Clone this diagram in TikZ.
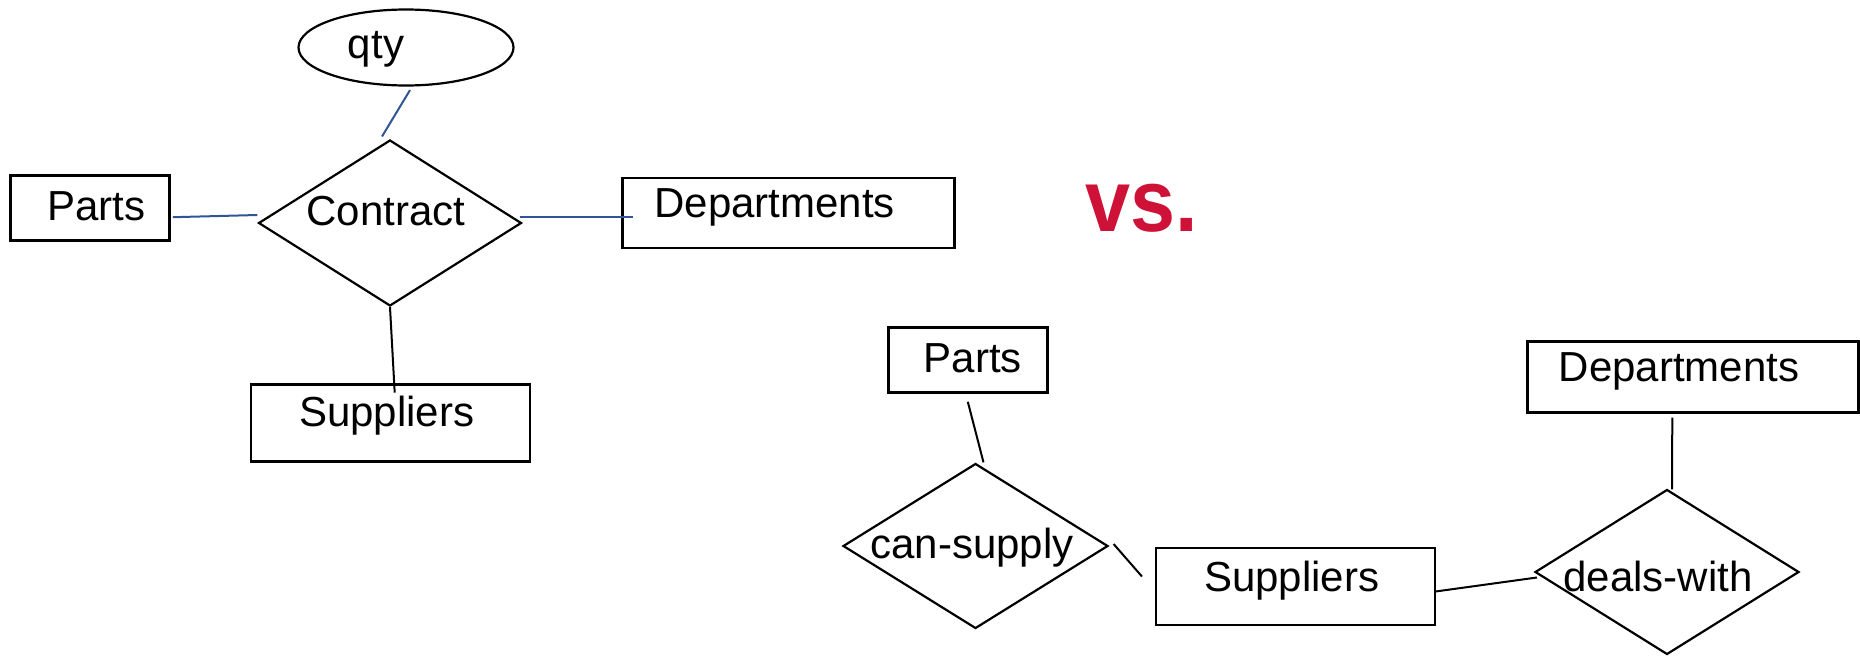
\documentclass[tikz,border=0pt]{standalone}
\usepackage{fontspec}
\setmainfont{Liberation Sans}
\usetikzlibrary{shapes.geometric,calc}
\definecolor{vsred}{RGB}{206,17,54}
\definecolor{linkblue}{RGB}{47,85,151}
\newcommand{\tx}[3]{\raisebox{#2}{\makebox[0pt]{\hspace*{#1}\hspace*{#1}#3}}}
\begin{document}
\begin{tikzpicture}[x=1pt,y=-1pt,
  font=\fontsize{42}{50}\selectfont,
  entity/.style={draw, rectangle, line width=2.5pt, inner sep=0pt, text height=30pt, text depth=0pt},
  rel/.style={draw, diamond, line width=2.2pt, inner sep=0pt, text height=30pt, text depth=0pt},
  attr/.style={draw, ellipse, line width=2.2pt, inner sep=0pt, text height=30pt, text depth=0pt},
  conn/.style={line width=2pt},
  blueconn/.style={conn, draw=linkblue}]
\useasboundingbox (0,0) rectangle (1860,656);

% ---- left: ternary relationship ----
\node[attr, minimum width=215pt, minimum height=76pt] (qty) at (406,47.5) {\tx{-30pt}{4pt}{qty}};
\node[rel, minimum width=263pt, minimum height=166pt] (contract) at (390,223) {\tx{-4pt}{13pt}{Contract}};
\node[entity, minimum width=159pt, minimum height=65pt] (partsL) at (90.2,208.2) {\tx{6pt}{3pt}{Parts}};
\node[entity, minimum width=332pt, minimum height=70pt] (deptL) at (788.7,213) {\tx{-14pt}{11pt}{Departments}};
\node[entity, minimum width=279pt, minimum height=77pt] (suppL) at (390.7,422.9) {\tx{-4pt}{11pt}{Suppliers}};

\draw[blueconn] ($(qty.south)+(4,3.5)$) -- ($(contract.north)+(-8,-2.4)$);
\draw[blueconn] ($(partsL.east)+(2,9)$) -- ($(contract.west)+(0,-8)$);
\draw[blueconn] ($(contract.east)+(-3,-6)$) -- ($(deptL.west)+(12,4)$);
\draw[conn] (contract.south) -- ($(suppL.north)+(4,9.5)$);

% ---- vs. ----
\node[anchor=base, inner sep=0pt, text=vsred, font=\fontsize{88}{100}\selectfont\bfseries] (vs) at (1141.5,231) {\scalebox{0.92}[1]{vs.}};

% ---- right: two binary relationships ----
\node[entity, minimum width=159pt, minimum height=65pt] (partsR) at (967.8,360) {\tx{5pt}{3pt}{Parts}};
\node[rel, minimum width=265pt, minimum height=165pt] (cansupply) at (975.5,546) {\tx{-3.5pt}{2.5pt}{can-supply}};
\node[entity, minimum width=279pt, minimum height=77pt] (suppR) at (1295.7,586.5) {\tx{-4pt}{10pt}{Suppliers}};
\node[rel, minimum width=264pt, minimum height=165pt] (deals) at (1667,572) {\tx{-9pt}{-4pt}{deals-with}};
\node[entity, minimum width=331pt, minimum height=71pt] (deptR) at (1693,377.2) {\tx{-14pt}{11pt}{Departments}};

\draw[conn] ($(partsR.south)+(0,8)$) -- ($(cansupply.north)+(8,0)$);
\draw[conn] ($(cansupply.east)+(4.5,-2)$) -- ($(suppR.west)+(-13,-10)$);
\draw[conn] ($(suppR.east)+(-1,5)$) -- ($(deals.west)+(3,5.5)$);
\draw[conn] ($(deptR.south)+(-20.7,3.6)$) -- ($(deals.north)+(5,1)$);
\end{tikzpicture}
\end{document}
